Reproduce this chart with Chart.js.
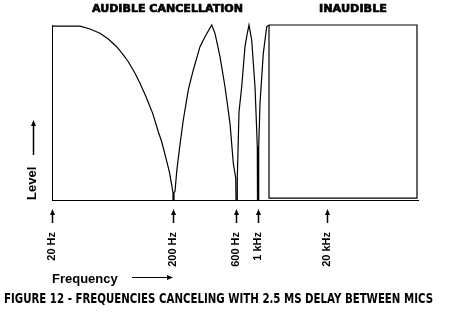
<!DOCTYPE html>
<html><head><meta charset="utf-8">
<script src="https://cdn.jsdelivr.net/npm/chart.js@4/dist/chart.umd.min.js"></script>
<style>html,body{margin:0;padding:0;background:#fff;}canvas{display:block}</style>
</head><body>
<canvas id="c" width="452" height="331"></canvas>
<script>
// ---- data (x = schematic position along the frequency axis, y = relative level 0..1) ----
const freqLabels = ['20 Hz', '200 Hz', '600 Hz', '1 kHz', '20 kHz'];
const freqPos = [0, 121, 184, 206, 275];
const curveX = [0, 28, 38, 48, 56.3, 64.7, 71.3, 76.3, 83, 88, 94, 100.7, 106.3, 109.7, 114, 117.3, 119.7, 121, 121,
  122, 122, 123, 124.7, 127.5, 131.3, 136.3, 141.3, 148, 153, 159.7, 163, 168, 173, 178, 181.3, 183.7, 184,
  185, 185.3, 187, 189.7, 193, 195, 197, 199.7, 203, 204.7, 205.3, 205.5,
  206.5, 206.7, 208, 211.3, 214.7, 217];
const curveLevel = [0.994, 0.994, 0.977, 0.953, 0.92, 0.876, 0.829, 0.79, 0.724, 0.667, 0.59, 0.495, 0.39, 0.333, 0.238, 0.162, 0.086, 0.04, 0,
  0, 0.04, 0.05, 0.162, 0.295, 0.457, 0.629, 0.743, 0.876, 0.933, 1.0, 0.952, 0.819, 0.647, 0.438, 0.21, 0.126, 0,
  0, 0.126, 0.503, 0.647, 0.876, 0.943, 1.0, 0.914, 0.647, 0.4, 0.303, 0,
  0, 0.303, 0.553, 0.838, 0.99, 1.0];
const inaudibleX = [217, 217, 365, 365, 217];
const inaudibleLevel = [1, 0.011, 0.011, 1, 1];
const regionLabels = ['AUDIBLE CANCELLATION', 'INAUDIBLE'];
const figureTitle = 'FIGURE 12 - FREQUENCIES CANCELING WITH 2.5 MS DELAY BETWEEN MICS';

const toPts = (xs, ys) => xs.map((x, i) => ({x: x, y: ys[i]}));

function fitText(ctx, text, x, y, font, w, align, heavy) {
  ctx.font = font;
  const m = ctx.measureText(text).width;
  ctx.save();
  ctx.translate(x, y);
  ctx.scale(w / m, 1);
  ctx.textAlign = align || 'center';
  ctx.textBaseline = 'alphabetic';
  ctx.fillText(text, 0, 0);
  if (heavy) { ctx.strokeStyle = '#000'; ctx.lineWidth = heavy; ctx.strokeText(text, 0, 0); }
  ctx.restore();
}
function arrowUp(ctx, x, tip, tail) {
  ctx.beginPath();
  ctx.moveTo(x, tip); ctx.lineTo(x - 2.5, tip + 6); ctx.lineTo(x + 2.5, tip + 6); ctx.closePath(); ctx.fill();
  ctx.fillRect(x - 0.75, tip + 5, 1.5, tail - tip - 5);
}
function arrowRight(ctx, y, from, tip) {
  ctx.beginPath();
  ctx.moveTo(tip, y); ctx.lineTo(tip - 6, y - 2.5); ctx.lineTo(tip - 6, y + 2.5); ctx.closePath(); ctx.fill();
  ctx.fillRect(from, y - 0.5, tip - from - 5, 1);
}

const deco = {
  id: 'deco',
  afterDraw(chart, args, o) {
    const ctx = chart.ctx, xs = chart.scales.x, ys = chart.scales.y, ca = chart.chartArea;
    ctx.save();
    ctx.fillStyle = '#000';
    // arrows under each frequency tick
    xs.ticks.forEach(t => {
      const px = Math.round(xs.getPixelForValue(t.value)) + 0.5;
      arrowUp(ctx, px, ca.bottom + 9, ca.bottom + 23);
    });
    // arrow above "Level"
    arrowUp(ctx, ys.left + 33.5, ca.bottom - 80, ca.bottom - 45);
    // arrow after "Frequency"
    const tipX = xs.getPixelForValue(freqPos[1]);
    arrowRight(ctx, ca.bottom + 77.5, tipX - 41, tipX);
    // region labels above the plot
    fitText(ctx, regionLabels[0], xs.getPixelForValue(115.5), ca.top - 13, 'bold 10px "DejaVu Sans"', 151, 'center', 0.6);
    fitText(ctx, regionLabels[1], xs.getPixelForValue(301), ca.top - 13, 'bold 10px "DejaVu Sans"', 68, 'center', 0.6);
    // figure caption
    fitText(ctx, figureTitle, 4, 303, 'bold 14px "DejaVu Sans Condensed"', 429, 'left');
    ctx.restore();
  }
};

new Chart(document.getElementById('c'), {
  type: 'scatter',
  data: {
    datasets: [
      {data: toPts(curveX, curveLevel), showLine: true, borderColor: '#000', borderWidth: 1.2,
       pointRadius: 0, tension: 0, clip: false},
      {data: toPts(inaudibleX, inaudibleLevel), showLine: true, borderColor: '#000', borderWidth: 1.2,
       pointRadius: 0, tension: 0, clip: false}
    ]
  },
  options: {
    responsive: false,
    animation: false,
    devicePixelRatio: 1,
    layout: {padding: {top: 25, right: 34, left: 0, bottom: 0}},
    plugins: {legend: {display: false}, tooltip: {enabled: false}},
    scales: {
      x: {
        type: 'linear', min: 0, max: 366, bounds: 'data',
        grid: {display: false, drawTicks: false},
        border: {display: true, color: '#000', width: 1},
        afterBuildTicks: s => { s.ticks = freqPos.map(v => ({value: v})); },
        afterFit: s => { s.height = 131; },
        ticks: {
          autoSkip: false, minRotation: 90, maxRotation: 90, padding: 32, color: '#000',
          font: {family: '"Liberation Sans"', weight: 'bold', size: 11},
          callback: (v, i) => freqLabels[i]
        },
        title: {display: true, text: 'Frequency', align: 'start', color: '#000',
          font: {family: '"Liberation Sans"', weight: 'bold', size: 13},
          padding: {top: 0, bottom: 44}}
      },
      y: {
        type: 'linear', min: 0, max: 1,
        grid: {display: false, drawTicks: false},
        border: {display: true, color: '#000', width: 1},
        ticks: {display: false},
        afterFit: s => { s.width = 52; },
        title: {display: true, text: 'Level', align: 'start', color: '#000',
          font: {family: '"Liberation Sans"', weight: 'bold', size: 13},
          padding: {top: 25, bottom: 0}}
      }
    }
  },
  plugins: [deco]
});
</script>
</body></html>
